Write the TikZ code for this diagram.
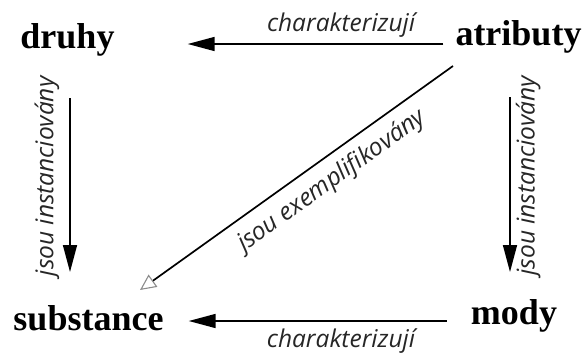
\documentclass[tikz,border=0pt]{standalone}
\usepackage{fontspec}
\setmainfont{Liberation Serif}
\newfontfamily\labfont{Open Sans}
\usetikzlibrary{arrows.meta,calc}
\begin{document}
\begin{tikzpicture}[x=1pt,y=-1pt,
  term/.style={font=\fontsize{36}{40}\selectfont\bfseries, inner sep=0pt, anchor=base},
  lab/.style={font=\labfont\itshape\fontsize{24.5}{28}\selectfont, text=black!85},
  arr/.style={line width=1.6pt, -{Triangle[length=27pt,width=14pt]}},
  exarr/.style={line width=1.7pt, -{Triangle[open,length=16pt,width=15pt,color=black!45,line width=1.1pt]}}]
\useasboundingbox (0,0) rectangle (587,354);
\node[term] (druhy) at (67.5,48) {druhy};
\node[term] (atributy) at (518.5,45) {atributy};
\node[term] (substance) at (88.5,330) {substance};
\node[term] (mody) at (514,324) {mody};
% top
\draw[arr] ([shift={(-12,-1)}]atributy.base west) -- ([shift={(73,-4)}]druhy.base east)
  node[lab, pos=0.4, anchor=south, inner sep=6pt] (l1) {charakterizují};
% bottom
\draw[arr] ([shift={(-24,-3)}]mody.base west) -- ([shift={(25,-9)}]substance.base east)
  node[lab, pos=0.41, anchor=north, inner sep=7pt] (l2) {charakterizují};
% left vertical
\draw[arr] ([shift={(2.5,50)}]druhy.base) -- ([shift={(-18.5,-58)}]substance.base)
  node[lab, pos=0.45, rotate=90, anchor=south, inner sep=10pt] (l3) {jsou instanciovány};
% right vertical
\draw[arr] ([shift={(-8.5,52)}]atributy.base) -- ([shift={(-4,-52)}]mody.base)
  node[lab, pos=0.45, rotate=90, anchor=north, inner sep=5pt] (l4) {jsou instanciovány};
% diagonal
\draw[exarr] ([shift={(-65.5,21)}]atributy.base) -- ([shift={(51.5,-40)}]substance.base)
  node[lab, pos=0.43, sloped, below, inner sep=10pt] (l5) {jsou exemplifikovány};
\end{tikzpicture}
\end{document}
